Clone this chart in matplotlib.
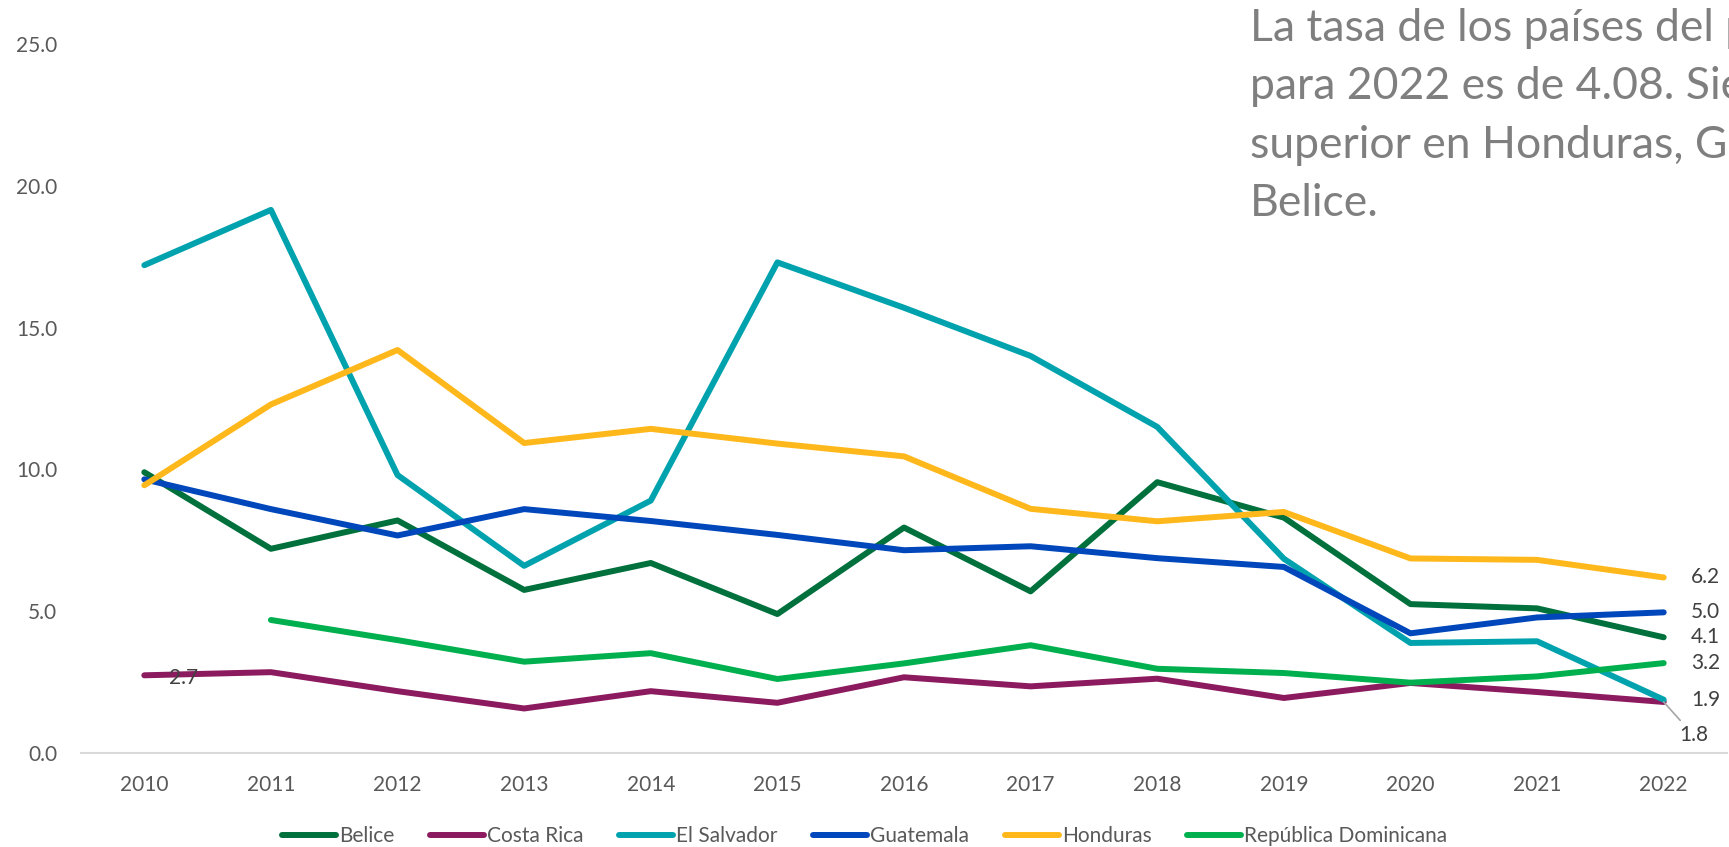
import numpy as np
import matplotlib
matplotlib.use("Agg")
import matplotlib.pyplot as plt

plt.rcParams['font.family'] = ['Lato', 'DejaVu Sans']

years = list(range(2010, 2023))
series_names = ["Belice", "Costa Rica", "El Salvador", "Guatemala", "Honduras", "República Dominicana"]
belice = [9.9, 7.2, 8.2, 5.75, 6.7, 4.9, 7.95, 5.7, 9.55, 8.3, 5.25, 5.1, 4.08]
costa_rica = [2.74, 2.85, 2.18, 1.57, 2.18, 1.77, 2.67, 2.35, 2.62, 1.94, 2.47, 2.15, 1.80]
el_salvador = [17.2, 19.15, 9.8, 6.6, 8.9, 17.3, 15.7, 14.0, 11.5, 6.85, 3.88, 3.94, 1.88]
guatemala = [9.65, 8.6, 7.67, 8.6, 8.18, 7.69, 7.15, 7.29, 6.87, 6.56, 4.22, 4.78, 4.96]
honduras = [9.44, 12.29, 14.21, 10.93, 11.43, 10.91, 10.46, 8.61, 8.17, 8.50, 6.86, 6.81, 6.19]
rep_dom = [np.nan, 4.69, 3.98, 3.22, 3.52, 2.61, 3.16, 3.80, 2.97, 2.82, 2.48, 2.70, 3.17]
colors = ["#00703C", "#8C1A5E", "#00A3AD", "#0047BB", "#FFB81C", "#00B04F"]
yticks = [0, 5, 10, 15, 20, 25]
note_lines = ["La tasa de los países del promedio",
              "para 2022 es de 4.08. Siendo",
              "superior en Honduras, Guatemala y",
              "Belice."]

data = [belice, costa_rica, el_salvador, guatemala, honduras, rep_dom]

W, H = 1729, 847
fig = plt.figure(figsize=(W / 100, H / 100), dpi=100)
ax = fig.add_axes([81 / W, (H - 753) / H, (1727 - 81) / W, 709 / H])

for name, vals, c in zip(series_names, data, colors):
    ax.plot(years, vals, color=c, lw=4.3, solid_capstyle='round',
            solid_joinstyle='round', label=name)

ax.set_xlim(2009.5, 2022.5)
ax.set_ylim(0, 25)
ax.set_yticks(yticks)
ax.set_yticklabels([f"{v:.1f}" for v in yticks])
ax.set_xticks(years)
ax.set_xticklabels([str(y) for y in years])
ax.tick_params(axis='both', length=0, labelsize=15, colors='#595959')
ax.tick_params(axis='x', pad=16)
ax.tick_params(axis='y', pad=17)
for s in ['top', 'right', 'left']:
    ax.spines[s].set_visible(False)
ax.spines['bottom'].set_color('#d9d9d9')
ax.spines['bottom'].set_linewidth(1.5)

label_color = '#404040'
# end labels
for vals in [belice, el_salvador, guatemala, honduras, rep_dom]:
    v = vals[-1]
    ax.annotate(f"{v:.1f}", (years[-1], v), xytext=(19.5, 0), textcoords='offset points',
                ha='left', va='center', fontsize=15, color=label_color, annotation_clip=False)
ax.annotate(f"{costa_rica[-1]:.1f}", (years[-1], costa_rica[-1]), xytext=(21.5, -24),
            textcoords='offset points', ha='center', va='center', fontsize=15,
            color=label_color, annotation_clip=False,
            arrowprops=dict(arrowstyle='-', color='#a6a6a6', lw=1.2, shrinkA=2, shrinkB=0))
ax.annotate(f"{costa_rica[0]:.1f}", (years[0], costa_rica[0]), xytext=(17.5, -2),
            textcoords='offset points', ha='left', va='center', fontsize=15,
            color=label_color, annotation_clip=False)

leg = fig.legend(loc='center', bbox_to_anchor=(0.5, (H - 836) / H), ncol=6, frameon=False,
                 fontsize=15, handlelength=2.6, handletextpad=0.15, columnspacing=1.7)
for t in leg.get_texts():
    t.set_color('#595959')

fig.text(1250 / W, 1 - 8 / H, "\n".join(note_lines), ha='left', va='top', fontsize=32,
         color='#7f7f7f', linespacing=1.53)

fig.savefig("out.png", dpi=100)
